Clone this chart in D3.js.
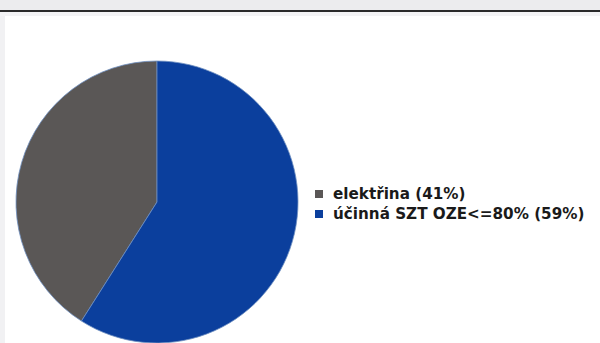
<!DOCTYPE html>
<html><head><meta charset="utf-8">
<script src="https://cdn.jsdelivr.net/npm/d3@7"></script>
<style>html,body{margin:0;padding:0;background:#fff;}svg{display:block;}</style>
</head><body>
<svg id="c" width="600" height="343"></svg>
<script>
const categories = ["elektřina", "účinná SZT OZE<=80%"];
const values = [41, 59];
const colors = ["#5a5756", "#0b3f9d"];

const svg = d3.select("#c");
// scan background header
svg.append("rect").attr("x",0).attr("y",0).attr("width",600).attr("height",10).attr("fill","#ececee");
svg.append("line").attr("x1",0).attr("x2",600).attr("y1",11).attr("y2",11).attr("stroke","#2a2a2a").attr("stroke-width",2.2);
svg.append("rect").attr("x",0).attr("y",12).attr("width",600).attr("height",4).attr("fill","#f3f3f5");
svg.append("rect").attr("x",0).attr("y",16).attr("width",5).attr("height",327).attr("fill","#f1f1f3");

const cx = 157, cy = 202, r = 141;
const data = categories.map((c,i)=>({cat:c, value:values[i], color:colors[i]}));
// blue slice clockwise from top; gray fills the rest
const pie = d3.pie().value(d=>d.value).sort(null)
  .startAngle(-2*Math.PI*values[0]/100).endAngle(2*Math.PI - 2*Math.PI*values[0]/100);
const arcs = pie(data);
const arc = d3.arc().innerRadius(0).outerRadius(r);
svg.append("g").attr("transform",`translate(${cx},${cy})`)
  .selectAll("path").data(arcs).join("path")
  .attr("d",arc).attr("fill",d=>d.data.color)
  .attr("stroke","#6f8fc0").attr("stroke-width",0.8);

const lg = svg.append("g").attr("transform","translate(315,0)");
const rows = lg.selectAll("g").data(data).join("g")
  .attr("transform",(d,i)=>`translate(0,${194 + i*20})`);
rows.append("rect").attr("x",0).attr("y",-4).attr("width",8).attr("height",8).attr("fill",d=>d.color);
rows.append("text").attr("x",18).attr("y",0).attr("dy","0.35em")
  .attr("font-family","DejaVu Sans").attr("font-weight","bold").attr("font-size",15.2)
  .attr("fill","#1a1a1a")
  .text(d=>`${d.cat} (${d.value}%)`);
</script>
</body></html>
